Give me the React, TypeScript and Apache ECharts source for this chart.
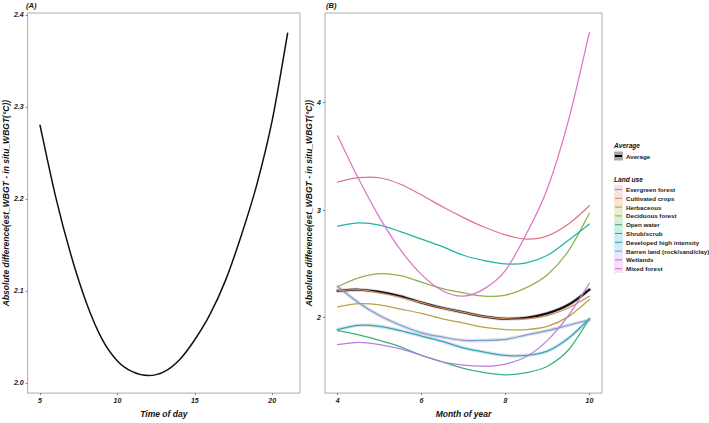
import React, { useEffect, useRef } from "react";
import * as echarts from "echarts";

// ---------- Panel A data ----------
const hours = [5, 6, 7, 8, 9, 10, 11, 12, 13, 14, 15, 16, 17, 18, 19, 20, 21];
const avgByHour = [2.28, 2.203, 2.139, 2.087, 2.048, 2.024, 2.012, 2.008, 2.012, 2.025, 2.047, 2.075, 2.112, 2.16, 2.215, 2.285, 2.38];
const hourTicks = [5, 10, 15, 20];
const hourValueTicks = [2.0, 2.1, 2.2, 2.3, 2.4];

// ---------- Panel B data ----------
const months = [4, 4.5, 5, 5.5, 6, 6.5, 7, 7.5, 8, 8.5, 9, 9.5, 10];
const monthTicks = [4, 6, 8, 10];
const monthValueTicks = [2, 3, 4];
const averageByMonth = [2.25, 2.26, 2.24, 2.2, 2.14, 2.09, 2.05, 2.01, 1.99, 2.0, 2.04, 2.12, 2.26];
const evergreenForest = [3.26, 3.3, 3.3, 3.24, 3.14, 3.03, 2.93, 2.84, 2.77, 2.73, 2.76, 2.87, 3.04];
const cultivatedCrops = [2.25, 2.26, 2.23, 2.19, 2.14, 2.09, 2.05, 2.01, 1.99, 1.99, 2.02, 2.09, 2.2];
const herbaceous = [2.1, 2.13, 2.12, 2.08, 2.04, 1.99, 1.95, 1.91, 1.89, 1.89, 1.92, 2.01, 2.17];
const deciduousForest = [2.29, 2.37, 2.41, 2.39, 2.33, 2.27, 2.23, 2.2, 2.21, 2.28, 2.4, 2.62, 2.97];
const openWater = [1.88, 1.84, 1.79, 1.73, 1.65, 1.59, 1.53, 1.49, 1.47, 1.49, 1.55, 1.7, 1.99];
const shrubScrub = [2.85, 2.88, 2.86, 2.8, 2.73, 2.66, 2.58, 2.53, 2.5, 2.51, 2.58, 2.72, 2.87];
const developedHighIntensity = [1.89, 1.93, 1.92, 1.88, 1.83, 1.78, 1.72, 1.68, 1.65, 1.65, 1.69, 1.81, 1.99];
const barrenLand = [2.29, 2.14, 2.02, 1.93, 1.86, 1.82, 1.79, 1.79, 1.8, 1.84, 1.88, 1.93, 1.98];
const wetlands = [1.75, 1.77, 1.75, 1.71, 1.65, 1.59, 1.56, 1.55, 1.57, 1.64, 1.79, 2.02, 2.32];
const mixedForest = [3.69, 3.29, 2.93, 2.63, 2.4, 2.25, 2.2, 2.27, 2.44, 2.78, 3.2, 3.83, 4.65];

const landUseNames = [
  "Evergreen forest",
  "Cultivated crops",
  "Herbaceous",
  "Deciduous forest",
  "Open water",
  "Shrub/scrub",
  "Developed high intensity",
  "Barren land (rock/sand/clay)",
  "Wetlands",
  "Mixed forest",
];
const landUseValues = [
  evergreenForest,
  cultivatedCrops,
  herbaceous,
  deciduousForest,
  openWater,
  shrubScrub,
  developedHighIntensity,
  barrenLand,
  wetlands,
  mixedForest,
];
const landUseColors = [
  "#DC7584",
  "#D4895A",
  "#B9A24A",
  "#8DB34A",
  "#3DB378",
  "#1FB3A5",
  "#25A9CF",
  "#7B9CDD",
  "#B77EE3",
  "#DB74C6",
];
// series whose confidence ribbon is visible as a grey halo
const haloSeries = ["Developed high intensity", "Barren land (rock/sand/clay)"];

const FONT = '"Liberation Sans", Arial, sans-serif';
const YTITLE = "Absolute difference(est_WBGT - in situ_WBGT(°C))";

function hexToRgba(hex: string, a: number) {
  const n = parseInt(hex.slice(1), 16);
  return `rgba(${(n >> 16) & 255},${(n >> 8) & 255},${n & 255},${a})`;
}

// Smooth curve (Catmull-Rom -> cubic Bezier) through the points, positioned by the axes.
function splineSeries(xs: number[], ys: number[], xi: number, yi: number, color: string, width: number, name?: string) {
  const data = xs.map((x, i) => [x, ys[i]]);
  return {
    type: "custom",
    name,
    xAxisIndex: xi,
    yAxisIndex: yi,
    data,
    silent: true,
    renderItem: (params: any, api: any) => {
      if (params.dataIndex !== 0) return null;
      const p = data.map((d) => api.coord(d));
      let d = `M${p[0][0]},${p[0][1]}`;
      for (let i = 0; i < p.length - 1; i++) {
        const p0 = p[i - 1] || p[i];
        const p1 = p[i];
        const p2 = p[i + 1];
        const p3 = p[i + 2] || p[i + 1];
        const c1x = p1[0] + (p2[0] - p0[0]) / 6;
        const c1y = p1[1] + (p2[1] - p0[1]) / 6;
        const c2x = p2[0] - (p3[0] - p1[0]) / 6;
        const c2y = p2[1] - (p3[1] - p1[1]) / 6;
        d += ` C${c1x},${c1y} ${c2x},${c2y} ${p2[0]},${p2[1]}`;
      }
      return {
        type: "path",
        shape: { pathData: d },
        style: { fill: "none", stroke: color, lineWidth: width, lineCap: "round", lineJoin: "round" },
      };
    },
  };
}

export default function App() {
  const ref = useRef<HTMLDivElement>(null);

  useEffect(() => {
    const chart = echarts.init(ref.current!, null, { renderer: "svg" });

    const tickLabel = {
      color: "#222",
      fontSize: 7,
      fontWeight: "bold" as const,
      fontStyle: "italic" as const,
      fontFamily: FONT,
    };
    const axisTitle = {
      color: "#111",
      fontSize: 8.5,
      fontWeight: "bold" as const,
      fontStyle: "italic" as const,
      fontFamily: FONT,
    };

    const xAxisBase = (gridIndex: number, min: number, max: number, ticks: number[], name: string) => ({
      type: "value",
      gridIndex,
      min,
      max,
      name,
      nameLocation: "middle",
      nameGap: 13,
      nameTextStyle: axisTitle,
      splitLine: { show: false },
      axisLine: { show: false },
      axisTick: { show: true, length: 2, customValues: ticks, lineStyle: { color: "#666", width: 0.8 } },
      axisLabel: { ...tickLabel, margin: 4, customValues: ticks, formatter: (v: number) => String(v) },
    });

    const yAxisBase = (gridIndex: number, min: number, max: number, ticks: number[], gap: number, dec: number) => ({
      type: "value",
      gridIndex,
      min,
      max,
      name: YTITLE,
      nameLocation: "middle",
      nameGap: gap,
      nameRotate: 90,
      nameTextStyle: axisTitle,
      splitLine: { show: false },
      axisLine: { show: false },
      axisTick: { show: true, length: 2, customValues: ticks, lineStyle: { color: "#666", width: 0.8 } },
      axisLabel: { ...tickLabel, margin: 4, customValues: ticks, formatter: (v: number) => v.toFixed(dec) },
    });

    const series: any[] = [];
    series.push(splineSeries(hours, avgByHour, 0, 0, "#111", 1.5));
    // grey halos (confidence ribbons) underneath
    series.push(splineSeries(months, averageByMonth, 1, 1, "rgba(150,150,150,0.35)", 4));
    landUseNames.forEach((name, k) => {
      if (haloSeries.indexOf(name) >= 0) {
        series.push(splineSeries(months, landUseValues[k], 1, 1, "rgba(160,160,160,0.3)", 3.6));
      }
    });
    series.push(splineSeries(months, averageByMonth, 1, 1, "#111", 2.2, "Average"));
    landUseNames.forEach((name, k) => {
      series.push(splineSeries(months, landUseValues[k], 1, 1, landUseColors[k], 1.25, name));
    });

    // legend drawn as graphics
    const legendX = 614;
    const graphics: any[] = [
      {
        type: "text",
        x: 26,
        y: 5,
        style: { text: "(A)", fill: "#111", fontSize: 7.5, fontWeight: "bold", fontStyle: "italic", fontFamily: FONT, verticalAlign: "middle" },
      },
      {
        type: "text",
        x: 326,
        y: 5,
        style: { text: "(B)", fill: "#111", fontSize: 7.5, fontWeight: "bold", fontStyle: "italic", fontFamily: FONT, verticalAlign: "middle" },
      },
      {
        type: "text",
        x: legendX,
        y: 145,
        style: { text: "Average", fill: "#111", fontSize: 6.6, fontWeight: "bold", fontStyle: "italic", fontFamily: FONT, verticalAlign: "middle" },
      },
      { type: "rect", shape: { x: legendX, y: 151.5, width: 9, height: 9 }, style: { fill: "#a8a8a8" } },
      { type: "line", shape: { x1: legendX + 1, y1: 156, x2: legendX + 8, y2: 156 }, style: { stroke: "#000", lineWidth: 2 } },
      {
        type: "text",
        x: legendX + 12,
        y: 156,
        style: { text: "Average", fill: "#222", fontSize: 6.2, fontWeight: "bold", fontFamily: FONT, verticalAlign: "middle" },
      },
      {
        type: "text",
        x: legendX,
        y: 179,
        style: { text: "Land use", fill: "#111", fontSize: 6.6, fontWeight: "bold", fontStyle: "italic", fontFamily: FONT, verticalAlign: "middle" },
      },
    ];
    landUseNames.forEach((name, k) => {
      const cy = 189.5 + k * 8.8;
      graphics.push({
        type: "rect",
        shape: { x: legendX, y: cy - 4.4, width: 9, height: 8.8 },
        style: { fill: hexToRgba(landUseColors[k], 0.22) },
      });
      graphics.push({
        type: "line",
        shape: { x1: legendX + 1, y1: cy, x2: legendX + 8, y2: cy },
        style: { stroke: landUseColors[k], lineWidth: 1.1 },
      });
      graphics.push({
        type: "text",
        x: legendX + 12,
        y: cy,
        style: { text: name, fill: "#222", fontSize: 6.2, fontWeight: "bold", fontFamily: FONT, verticalAlign: "middle" },
      });
    });

    const option: any = {
      animation: false,
      backgroundColor: "#fff",
      grid: [
        { left: 23, top: 13, width: 277, height: 388, show: true, borderColor: "#aaa", borderWidth: 1, backgroundColor: "transparent" },
        { left: 325, top: 13, width: 277, height: 389, show: true, borderColor: "#aaa", borderWidth: 1, backgroundColor: "transparent" },
      ],
      xAxis: [
        xAxisBase(0, 4.2, 21.8, hourTicks, "Time of day"),
        xAxisBase(1, 3.7, 10.3, monthTicks, "Month of year"),
      ],
      yAxis: [
        yAxisBase(0, 1.989, 2.402, hourValueTicks, 11, 1),
        yAxisBase(1, 1.3, 4.83, monthValueTicks, 9, 0),
      ],
      series,
      graphic: graphics,
    };

    chart.setOption(option);
    return () => chart.dispose();
  }, []);

  return (
    <div
      ref={ref}
      style={{ position: "fixed", left: 0, top: 0, width: 709, height: 423, background: "#fff" }}
    />
  );
}
